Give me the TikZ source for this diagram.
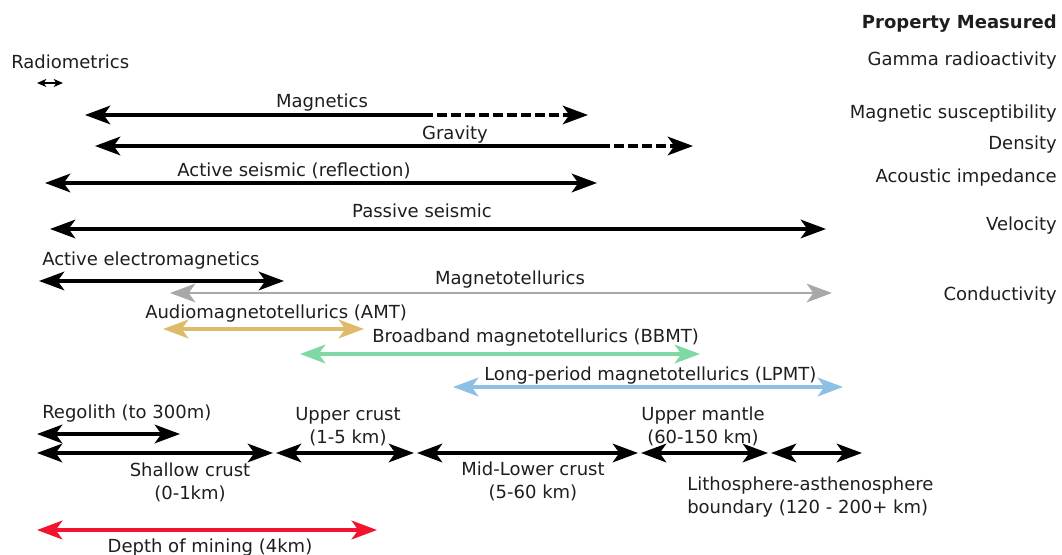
\documentclass[tikz,border=0pt]{standalone}
\usepackage{fontspec}
\setmainfont{DejaVu Sans}
\usetikzlibrary{arrows.meta}
\definecolor{txtgrey}{HTML}{1E1E1E}
\definecolor{mtgrey}{HTML}{A8A8A8}
\definecolor{amtgold}{HTML}{DDBB6A}
\definecolor{bbmtgreen}{HTML}{80D8A4}
\definecolor{lpmtblue}{HTML}{8EC0E6}
\definecolor{minered}{HTML}{F2132F}
\tikzset{
  hd/.tip={Stealth[length=19pt,width=14pt,inset=5pt]},
  sm/.tip={Stealth[length=7pt,width=6pt,inset=2pt]}
}
\begin{document}
\begin{tikzpicture}[x=0.75pt,y=-0.75pt,
        lbl/.style={font=\fontsize{13.5}{17}\selectfont, text=txtgrey, inner sep=0pt, anchor=base},
        prop/.style={lbl, anchor=base east},
        blk/.style={line width=2.3pt, hd-hd},
        col/.style={line width=3pt, hd-hd},
        dsh/.style={dash pattern=on 7.5pt off 3pt}]
        \useasboundingbox (0,0) rectangle (1062,555);
        %
        % property column
        \node[prop, font=\fontsize{13.5}{17}\selectfont\bfseries] (hdr) at (1057,29) {Property Measured};
        \node[prop] (gamma) at (1057,66) {Gamma radioactivity};
        \node[prop] (susc) at (1057,119) {Magnetic susceptibility};
        \node[prop] (dens) at (1057,150) {Density};
        \node[prop] (imped) at (1057,183) {Acoustic impedance};
        \node[prop] (vel) at (1057,231) {Velocity};
        \node[prop] (cond) at (1057,301) {Conductivity};
        %
        % radiometrics
        \node[lbl, anchor=base west] (radio) at (11,69) {Radiometrics};
        \coordinate (radio-l) at (37,83);
        \coordinate (radio-r) at (63,83);
        \draw[line width=1.2pt, sm-sm] (radio-l) -- (radio-r);
        %
        % magnetics and gravity (solid then dashed)
        \node[lbl] (mag) at (322,108) {Magnetics};
        \coordinate (mag-l) at (85,115);
        \coordinate (mag-m) at (423,115);
        \coordinate (mag-r) at (588,115);
        \draw[line width=2.3pt, hd-] (mag-l) -- (mag-m);
        \draw[line width=2.3pt, dsh, -hd] (mag-m) -- (mag-r);
        %
        \node[lbl] (grav) at (455,140) {Gravity};
        \coordinate (grav-l) at (95,146);
        \coordinate (grav-m) at (600,146);
        \coordinate (grav-r) at (693,146);
        \draw[line width=2.3pt, hd-] (grav-l) -- (grav-m);
        \draw[line width=2.3pt, dsh, -hd] (grav-m) -- (grav-r);
        %
        % seismic
        \node[lbl] (aseis) at (294,177) {Active seismic (reflection)};
        \coordinate (aseis-l) at (45,183);
        \coordinate (aseis-r) at (597,183);
        \draw[blk] (aseis-l) -- (aseis-r);
        %
        \node[lbl] (pseis) at (422,218) {Passive seismic};
        \coordinate (pseis-l) at (50,229);
        \coordinate (pseis-r) at (826,229);
        \draw[blk] (pseis-l) -- (pseis-r);
        %
        % electromagnetics
        \node[lbl, anchor=base west] (aem) at (42,266) {Active electromagnetics};
        \coordinate (aem-l) at (39,281);
        \coordinate (aem-r) at (284,281);
        \draw[blk] (aem-l) -- (aem-r);
        %
        \node[lbl] (mt) at (510,285) {Magnetotellurics};
        \coordinate (mt-l) at (170,293);
        \coordinate (mt-r) at (832,293);
        \draw[blk, mtgrey, line width=2pt] (mt-l) -- (mt-r);
        %
        \node[lbl, anchor=base west] (amt) at (145,319) {Audiomagnetotellurics (AMT)};
        \coordinate (amt-l) at (163,329);
        \coordinate (amt-r) at (364,329);
        \draw[col, amtgold] (amt-l) -- (amt-r);
        %
        \node[lbl, anchor=base west] (bbmt) at (372,343) {Broadband magnetotellurics (BBMT)};
        \coordinate (bbmt-l) at (300,354);
        \coordinate (bbmt-r) at (700,354);
        \draw[col, bbmtgreen] (bbmt-l) -- (bbmt-r);
        %
        \node[lbl, anchor=base west] (lpmt) at (484,380) {Long-period magnetotellurics (LPMT)};
        \coordinate (lpmt-l) at (453,387);
        \coordinate (lpmt-r) at (843,387);
        \draw[col, lpmtblue] (lpmt-l) -- (lpmt-r);
        %
        % depth ranges
        \node[lbl, anchor=base west] (rego) at (42,418) {Regolith (to 300m)};
        \coordinate (rego-l) at (37,434);
        \coordinate (rego-r) at (180,434);
        \draw[blk] (rego-l) -- (rego-r);
        %
        \coordinate (d0) at (37,453);
        \coordinate (d1) at (273,453);
        \coordinate (d2) at (276,453);
        \coordinate (d3) at (414,453);
        \coordinate (d4) at (417,453);
        \coordinate (d5) at (638,453);
        \coordinate (d6) at (641,453);
        \coordinate (d7) at (768,453);
        \coordinate (d8) at (771,453);
        \coordinate (d9) at (862,453);
        \draw[blk] (d0) -- (d1);
        \draw[blk] (d2) -- (d3);
        \draw[blk] (d4) -- (d5);
        \draw[blk] (d6) -- (d7);
        \draw[blk] (d8) -- (d9);
        %
        \node[lbl] (shal) at (190,476) {Shallow crust};
        \node[lbl] (shal2) at (190,499) {(0-1km)};
        \node[lbl] (ucr) at (348,420) {Upper crust};
        \node[lbl] (ucr2) at (348,443) {(1-5 km)};
        \node[lbl] (mlcr) at (533,475) {Mid-Lower crust};
        \node[lbl] (mlcr2) at (533,498) {(5-60 km)};
        \node[lbl] (uman) at (703,420) {Upper mantle};
        \node[lbl] (uman2) at (703,443) {(60-150 km)};
        \node[lbl, anchor=base west] (lab) at (687,490) {Lithosphere-asthenosphere};
        \node[lbl, anchor=base west] (lab2) at (687,513) {boundary (120 - 200+ km)};
        %
        % mining depth
        \coordinate (mine-l) at (37,530);
        \coordinate (mine-r) at (377,530);
        \draw[col, minered] (mine-l) -- (mine-r);
        \node[lbl] (mine) at (210,552) {Depth of mining (4km)};
\end{tikzpicture}
\end{document}
